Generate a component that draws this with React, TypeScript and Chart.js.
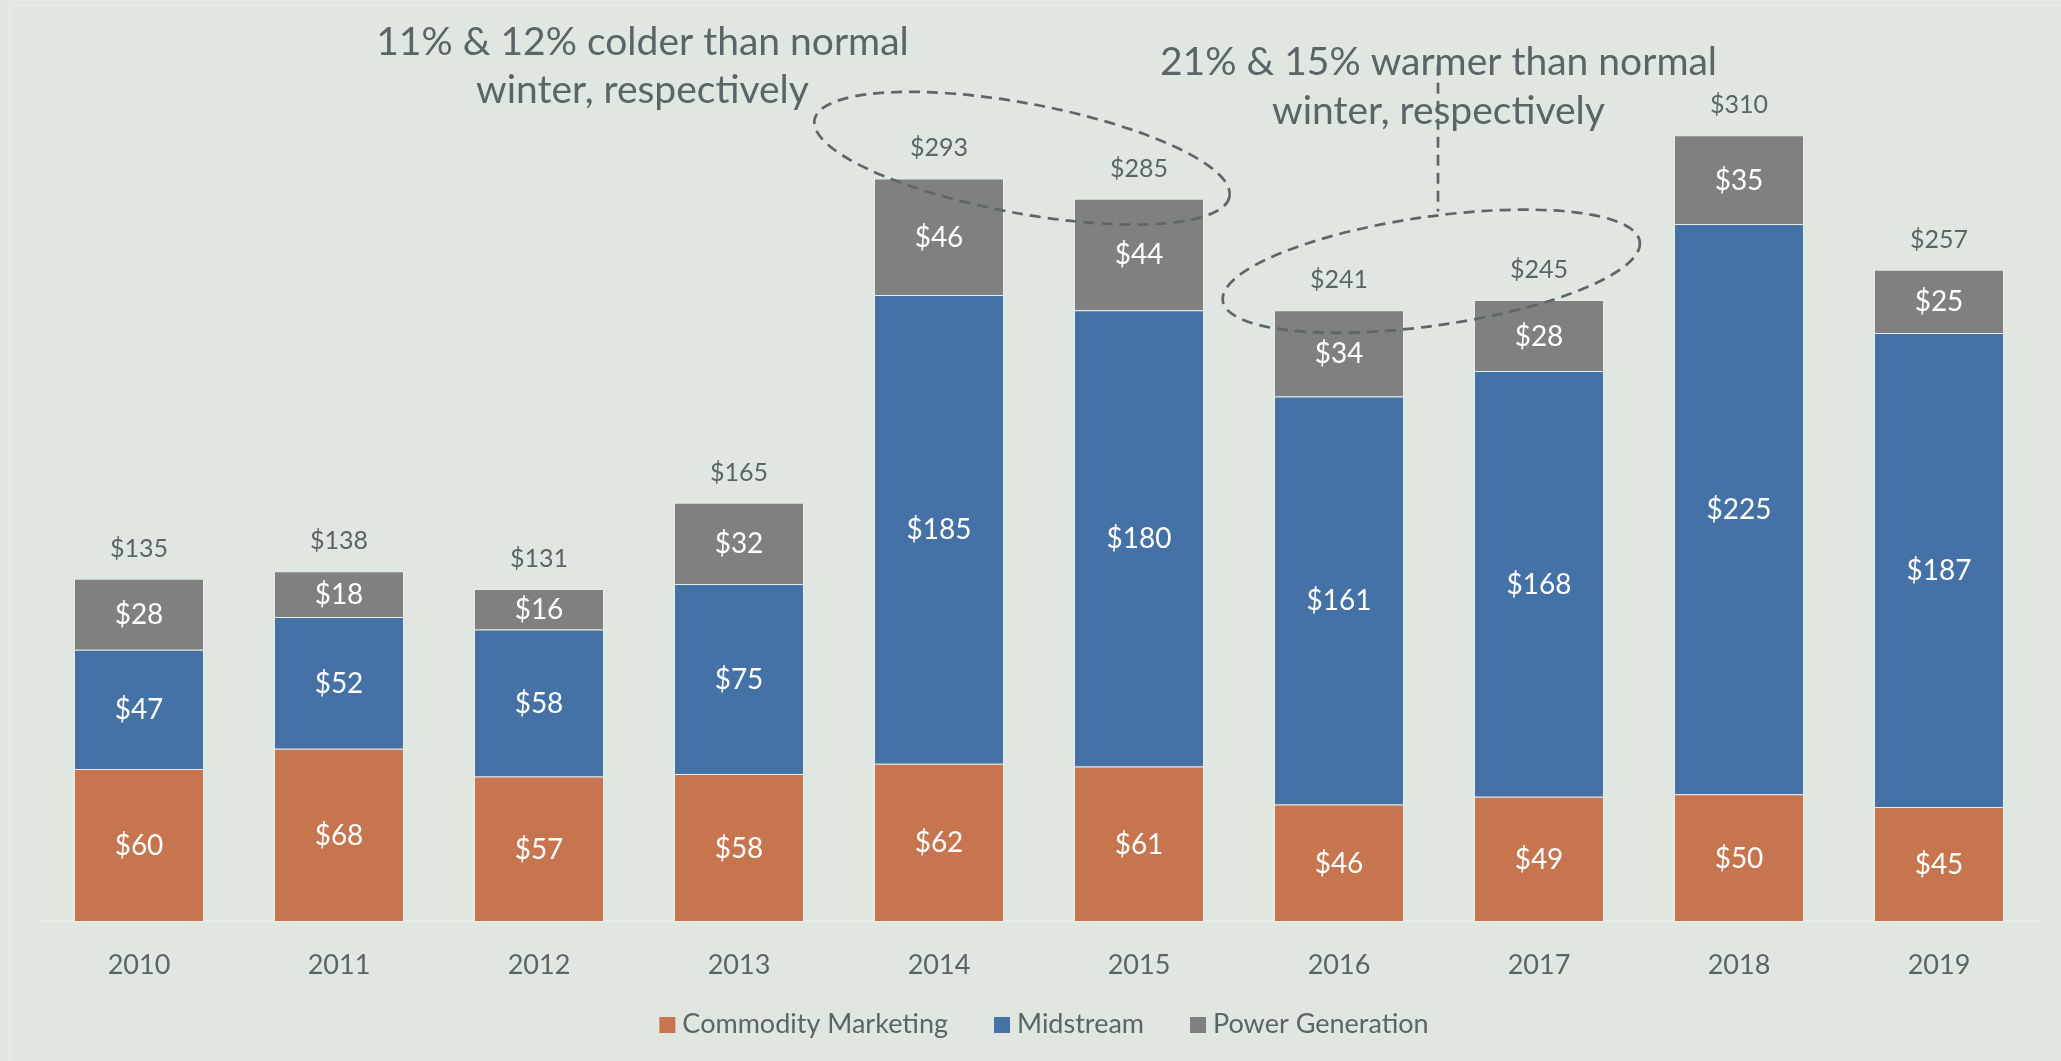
import React, { useEffect, useRef } from 'react';
import { Chart, registerables } from 'chart.js';

Chart.register(...registerables);

const YEARS = ['2010', '2011', '2012', '2013', '2014', '2015', '2016', '2017', '2018', '2019'];
const COMMODITY = [60, 68, 57, 58, 62, 61, 46, 49, 50, 45];
const MIDSTREAM = [47, 52, 58, 75, 185, 180, 161, 168, 225, 187];
const POWER = [28, 18, 16, 32, 46, 44, 34, 28, 35, 25];
const TOTALS = [135, 138, 131, 165, 293, 285, 241, 245, 310, 257];
const SERIES_NAMES = ['Commodity Marketing', 'Midstream', 'Power Generation'];
const NOTE_COLD = ['11% & 12% colder than normal', 'winter, respectively'];
const NOTE_WARM = ['21% & 15% warmer than normal', 'winter, respectively'];

const TEXT = '#5a6568';
const FONT = 'Lato, "Open Sans", sans-serif';
const BG = '#e0e7e0';

const valueLabels = {
  id: 'valueLabels',
  afterDatasetsDraw(chart: any) {
    const ctx = chart.ctx;
    const xs = chart.scales.x;
    const ys = chart.scales.y;
    ctx.save();
    ctx.textAlign = 'center';
    ctx.textBaseline = 'alphabetic';
    ctx.fillStyle = '#ffffff';
    ctx.font = `28px ${FONT}`;
    chart.data.datasets.forEach((ds: any, di: number) => {
      const meta = chart.getDatasetMeta(di);
      meta.data.forEach((bar: any, i: number) => {
        const cy = (bar.y + bar.base) / 2;
        ctx.fillText('$' + ds.data[i], bar.x, cy + 10);
      });
    });
    ctx.fillStyle = TEXT;
    ctx.font = `25px ${FONT}`;
    TOTALS.forEach((t, i) => {
      ctx.fillText('$' + t, xs.getPixelForValue(i), ys.getPixelForValue(t) - 22);
    });
    ctx.restore();
  },
};

const notes = {
  id: 'notes',
  afterDraw(chart: any) {
    const ctx = chart.ctx;
    const xs = chart.scales.x;
    const ys = chart.scales.y;
    const cat = xs.getPixelForValue(1) - xs.getPixelForValue(0);
    const unit = ys.getPixelForValue(0) - ys.getPixelForValue(1);
    ctx.save();
    // texts
    ctx.fillStyle = TEXT;
    ctx.textAlign = 'center';
    ctx.textBaseline = 'alphabetic';
    ctx.font = `39px ${FONT}`;
    ctx.fillText(NOTE_COLD[0], xs.getPixelForValue(2.5175), ys.getPixelForValue(341.9));
    ctx.fillText(NOTE_COLD[1], xs.getPixelForValue(2.5175), ys.getPixelForValue(322.9));
    ctx.fillText(NOTE_WARM[0], xs.getPixelForValue(6.4975), ys.getPixelForValue(334.0));
    ctx.fillText(NOTE_WARM[1], xs.getPixelForValue(6.4975), ys.getPixelForValue(314.3));
    // dashed shapes
    ctx.strokeStyle = '#5c676a';
    ctx.lineWidth = 2.7;
    ctx.setLineDash([11, 7]);
    ctx.beginPath();
    ctx.ellipse(xs.getPixelForValue(4.415), ys.getPixelForValue(301.0), 1.055 * cat, 21.7 * unit, (10.5 * Math.PI) / 180, 0, Math.PI * 2);
    ctx.stroke();
    ctx.beginPath();
    ctx.ellipse(xs.getPixelForValue(6.4615), ys.getPixelForValue(256.4), 1.053 * cat, 21.5 * unit, (-8.1 * Math.PI) / 180, 0, Math.PI * 2);
    ctx.stroke();
    ctx.beginPath();
    const lx = xs.getPixelForValue(6.495);
    ctx.moveTo(lx, ys.getPixelForValue(337.9));
    ctx.lineTo(lx, ys.getPixelForValue(280));
    ctx.stroke();
    ctx.restore();
  },
};

const customLegend = {
  id: 'customLegend',
  afterDraw(chart: any) {
    const ctx = chart.ctx;
    const area = chart.chartArea;
    ctx.save();
    ctx.font = `27px ${FONT}`;
    ctx.textBaseline = 'alphabetic';
    ctx.textAlign = 'left';
    const items = chart.data.datasets.map((ds: any) => ({
      label: ds.label as string,
      color: ds.backgroundColor as string,
      w: 16 + 7 + ctx.measureText(ds.label).width,
    }));
    const gap = 46;
    const total = items.reduce((s: number, it: any) => s + it.w, 0) + gap * (items.length - 1);
    let x = (area.left + area.right) / 2 + 5 - total / 2;
    const base = chart.height - 28;
    items.forEach((it: any) => {
      ctx.fillStyle = it.color;
      ctx.fillRect(x, base - 16, 16, 16);
      ctx.fillStyle = TEXT;
      ctx.fillText(it.label, x + 23, base);
      x += it.w + gap;
    });
    ctx.restore();
  },
};

export default function App() {
  const ref = useRef<HTMLCanvasElement | null>(null);

  useEffect(() => {
    if (!ref.current) return;
    const chart = new Chart(ref.current, {
      type: 'bar',
      data: {
        labels: YEARS,
        datasets: [
          { label: SERIES_NAMES[0], data: COMMODITY, backgroundColor: '#c7754f', borderColor: 'rgba(255,255,255,0.22)', borderWidth: 1 },
          { label: SERIES_NAMES[1], data: MIDSTREAM, backgroundColor: '#4572a6', borderColor: 'rgba(255,255,255,0.22)', borderWidth: 1 },
          { label: SERIES_NAMES[2], data: POWER, backgroundColor: '#808080', borderColor: 'rgba(255,255,255,0.22)', borderWidth: 1 },
        ],
      },
      options: {
        responsive: false,
        animation: false,
        layout: { padding: { left: 39, right: 22, top: 34, bottom: 0 } },
        datasets: { bar: { categoryPercentage: 1, barPercentage: 0.65 } },
        plugins: { legend: { display: false }, tooltip: { enabled: false } },
        scales: {
          x: {
            stacked: true,
            grid: { display: false, drawTicks: false },
            border: { display: true, color: '#e9ece9', width: 2 },
            ticks: { color: TEXT, font: { family: FONT, size: 27 }, padding: 28 },
            afterFit: (s: any) => {
              s.height = 140;
            },
          },
          y: { stacked: true, display: false, min: 0, max: 350 },
        },
      } as any,
      plugins: [valueLabels, notes, customLegend],
    });
    return () => chart.destroy();
  }, []);

  return (
    <div style={{ position: 'fixed', left: 0, top: 0, width: 2061, height: 1061, background: BG, overflow: 'hidden' }}>
      <div
        style={{
          position: 'absolute',
          left: 9,
          top: 4,
          width: 2061,
          height: 1061,
          borderTop: '2px solid #e6eae6',
          borderLeft: '2px solid #e6eae6',
        }}
      />
      <canvas ref={ref} width={2061} height={1061} style={{ position: 'absolute', left: 0, top: 0 }} />
    </div>
  );
}
